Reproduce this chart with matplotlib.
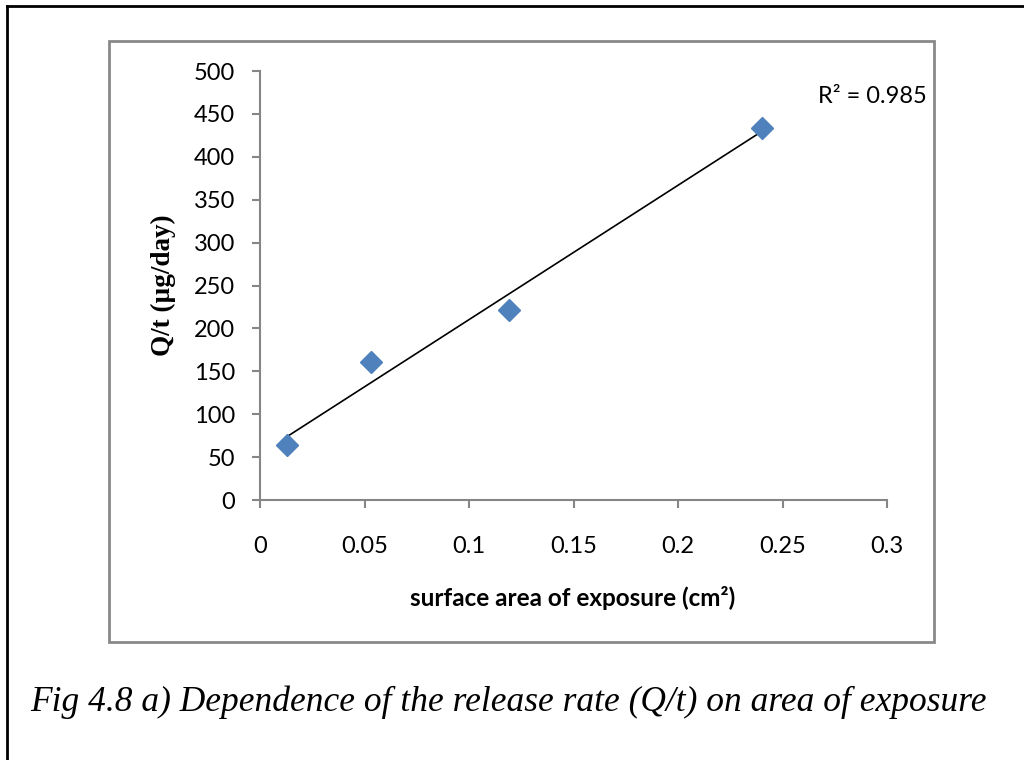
from matplotlib import pyplot as plt
from matplotlib.patches import Rectangle
from matplotlib.lines import Line2D
import numpy as np

# data
area = [0.013, 0.053, 0.119, 0.24]
rate = [64, 161, 221, 434]

x_ticks = [0, 0.05, 0.1, 0.15, 0.2, 0.25, 0.3]
x_tick_labels = ['0', '0.05', '0.1', '0.15', '0.2', '0.25', '0.3']
y_ticks = [0, 50, 100, 150, 200, 250, 300, 350, 400, 450, 500]

W, H = 1024, 760
fig = plt.figure(figsize=(W / 100, H / 100), dpi=100)

# outer page frame (top and left only) and chart box
fig.add_artist(Line2D([7 / W, 7 / W], [0, 1 - 6 / H], color='black', lw=2))
fig.add_artist(Line2D([7 / W, 1], [1 - 6 / H, 1 - 6 / H], color='black', lw=2))
fig.add_artist(Rectangle((109 / W, 1 - 642 / H), (934 - 109) / W, (642 - 41) / H,
                         fill=False, edgecolor='#898989', lw=2, transform=fig.transFigure))

ax = fig.add_axes([260 / W, 1 - 500 / H, (887 - 260) / W, (500 - 71) / H])

# linear trendline
k, b = np.polyfit(area, rate, 1)
fit = np.polyval([k, b], area)
r2 = 1 - np.sum((np.array(rate) - fit) ** 2) / np.sum((np.array(rate) - np.mean(rate)) ** 2)
xs = np.array([min(area), max(area)])
ax.plot(xs, k * xs + b, color='black', lw=1.2, zorder=2)

ax.plot(area, rate, linestyle='none', marker='D', markersize=11, color='#4F81BD', zorder=3)

ax.text(0.267, 470, 'R² = %.3f' % r2, fontsize=17, family='Lato', va='center', ha='left')

ax.set_xlim(0, 0.3)
ax.set_ylim(0, 500)
ax.set_xticks(x_ticks)
ax.set_xticklabels(x_tick_labels)
ax.set_yticks(y_ticks)

for s in ['top', 'right']:
    ax.spines[s].set_visible(False)
for s in ['left', 'bottom']:
    ax.spines[s].set_color('#868686')
    ax.spines[s].set_linewidth(1.5)
ax.tick_params(colors='#868686', labelcolor='black', width=1.5, length=6, labelsize=17)
ax.tick_params(axis='x', pad=20)
ax.tick_params(axis='y', pad=12)
for lab in ax.get_xticklabels() + ax.get_yticklabels():
    lab.set_family('Lato')

fig.text(163 / W, 1 - 285 / H, 'Q/t (µg/day)', rotation=90, ha='center', va='center',
         fontsize=19.5, fontweight='bold', family='Liberation Serif')
fig.text(573 / W, 1 - 598 / H, 'surface area of exposure (cm²)', ha='center', va='center',
         fontsize=17.5, fontweight='bold', family='Lato')

fig.text(30 / W, 1 - 702 / H, 'Fig 4.8 a) Dependence of the release rate (Q/t) on area of exposure',
         ha='left', va='center', fontsize=25.5, style='italic', family='Liberation Serif')

fig.savefig('out.png', dpi=100)
